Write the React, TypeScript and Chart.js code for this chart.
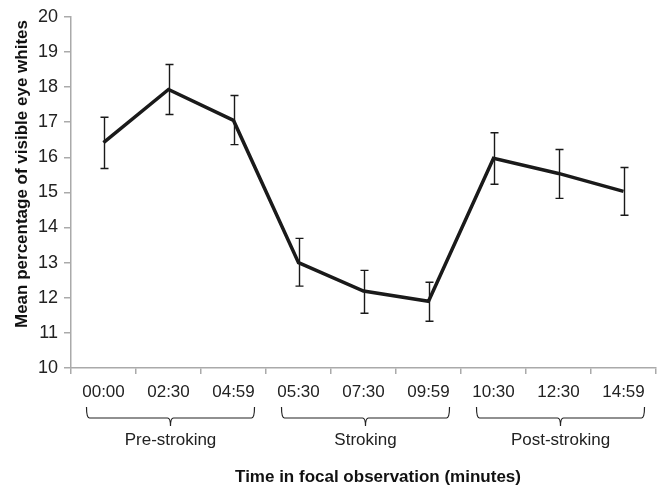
import React, { useEffect, useRef } from "react";
import { Chart, registerables } from "chart.js";

Chart.register(...registerables);

const categories = ["00:00", "02:30", "04:59", "05:30", "07:30", "09:59", "10:30", "12:30", "14:59"];
const means = [16.42, 17.93, 17.05, 13.0, 12.19, 11.9, 15.97, 15.54, 15.03];
const upper = [17.14, 18.64, 17.76, 13.69, 12.78, 12.44, 16.7, 16.22, 15.71];
const lower = [15.68, 17.22, 16.36, 12.33, 11.56, 11.33, 15.23, 14.83, 14.35];
const groupLabels = ["Pre-stroking", "Stroking", "Post-stroking"];
const groupStart = [0, 3, 6];
const groupEnd = [2, 5, 8];
const yTitle = "Mean percentage of visible eye whites";
const xTitle = "Time in focal observation (minutes)";

const FONT = "'Liberation Sans', Arial, Helvetica, sans-serif";

const overlayPlugin = {
  id: "overlay",
  beforeDatasetsDraw(chart: any) {
    const ctx = chart.ctx;
    const xs = chart.scales.x;
    const ys = chart.scales.y;
    ctx.save();
    ctx.strokeStyle = "#1a1a1a";
    ctx.lineWidth = 1.4;
    for (let i = 0; i < means.length; i++) {
      const x = Math.round(xs.getPixelForValue(i)) + 0.5;
      const yt = ys.getPixelForValue(upper[i]);
      const yb = ys.getPixelForValue(lower[i]);
      ctx.beginPath();
      ctx.moveTo(x, yt);
      ctx.lineTo(x, yb);
      ctx.moveTo(x - 4, yt);
      ctx.lineTo(x + 4, yt);
      ctx.moveTo(x - 4, yb);
      ctx.lineTo(x + 4, yb);
      ctx.stroke();
    }
    ctx.restore();
  },
  afterDraw(chart: any) {
    const ctx = chart.ctx;
    const xs = chart.scales.x;
    const area = chart.chartArea;
    ctx.save();
    ctx.strokeStyle = "#222";
    ctx.lineWidth = 1.2;
    ctx.fillStyle = "#222";
    ctx.font = "17px " + FONT;
    ctx.textAlign = "center";
    ctx.textBaseline = "middle";
    const top = area.bottom + 39;
    const bot = area.bottom + 50;
    const tip = area.bottom + 58;
    for (let g = 0; g < groupLabels.length; g++) {
      const l = xs.getPixelForValue(groupStart[g]) - 17;
      const r = xs.getPixelForValue(groupEnd[g]) + 21;
      const m = (l + r) / 2;
      ctx.beginPath();
      ctx.moveTo(l, top);
      ctx.quadraticCurveTo(l, bot, l + 3, bot);
      ctx.lineTo(m - 3, bot);
      ctx.quadraticCurveTo(m, bot, m, tip);
      ctx.quadraticCurveTo(m, bot, m + 3, bot);
      ctx.lineTo(r - 3, bot);
      ctx.quadraticCurveTo(r, bot, r, top);
      ctx.stroke();
      ctx.fillText(groupLabels[g], m, area.bottom + 72);
    }
    ctx.fillStyle = "#111";
    ctx.font = "bold 17px " + FONT;
    ctx.fillText(xTitle, 378, area.bottom + 109);
    ctx.translate(22, 174);
    ctx.rotate(-Math.PI / 2);
    ctx.fillText(yTitle, 0, 0);
    ctx.restore();
  },
};

export default function App() {
  const ref = useRef<HTMLCanvasElement>(null);
  useEffect(() => {
    document.body.style.margin = "0";
    const chart = new Chart(ref.current as HTMLCanvasElement, {
      type: "line",
      data: {
        labels: categories,
        datasets: [
          {
            data: means,
            borderColor: "#1a1a1a",
            borderWidth: 3.5,
            pointRadius: 0,
            tension: 0,
            fill: false,
          },
        ],
      },
      options: {
        responsive: false,
        animation: false,
        layout: { padding: { top: 16, right: 3, left: 0, bottom: 0 } },
        plugins: { legend: { display: false }, tooltip: { enabled: false } },
        scales: {
          x: {
            offset: true,
            afterFit: (s: any) => {
              s.height = 118;
            },
            grid: {
              offset: true,
              drawOnChartArea: false,
              tickLength: 6,
              color: "#aaaaaa",
              lineWidth: 1.5,
            },
            border: { color: "#aaaaaa", width: 1.5 },
            ticks: {
              color: "#222",
              font: { family: FONT, size: 17 },
              padding: 8,
              maxRotation: 0,
            },
          },
          y: {
            min: 10,
            max: 20,
            afterFit: (s: any) => {
              s.width = 71;
            },
            grid: {
              drawOnChartArea: false,
              tickLength: 7,
              color: "#aaaaaa",
              lineWidth: 1.5,
            },
            border: { color: "#aaaaaa", width: 1.5 },
            ticks: {
              stepSize: 1,
              color: "#222",
              font: { family: FONT, size: 18 },
              padding: 6,
            },
          },
        },
      },
      plugins: [overlayPlugin],
    });
    return () => chart.destroy();
  }, []);
  return <canvas ref={ref} width={659} height={486} style={{ display: "block" }} />;
}
